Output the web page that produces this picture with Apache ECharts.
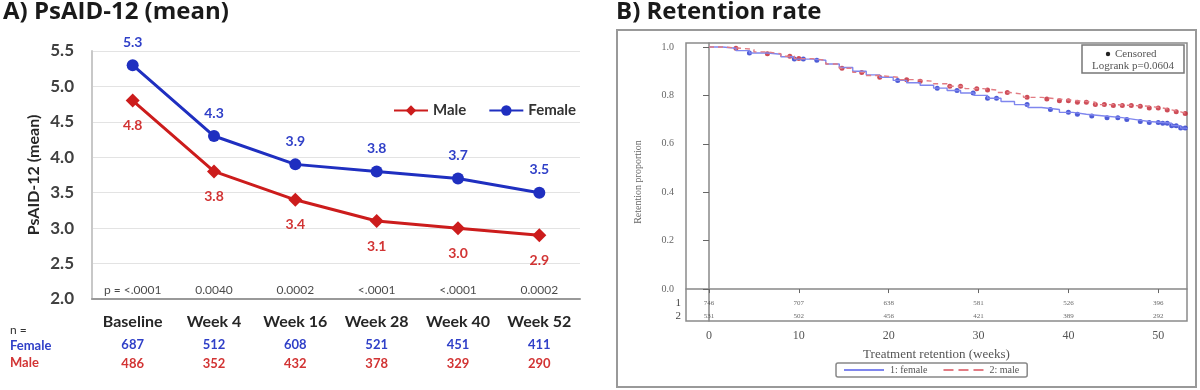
<!DOCTYPE html>
<html>
<head>
<meta charset="utf-8">
<script src="https://cdn.jsdelivr.net/npm/echarts@6/dist/echarts.min.js"></script>
<style>html,body{margin:0;padding:0;background:#fff}#c{width:1200px;height:390px}</style>
</head>
<body>
<div id="c"></div>
<script>
// ---- Panel A data ----
var categories = ['Baseline', 'Week 4', 'Week 16', 'Week 28', 'Week 40', 'Week 52'];
var femaleMean = [5.3, 4.3, 3.9, 3.8, 3.7, 3.5];
var maleMean = [4.8, 3.8, 3.4, 3.1, 3.0, 2.9];
var pValues = ['p = <.0001', '0.0040', '0.0002', '<.0001', '<.0001', '0.0002'];
var femaleN = [687, 512, 608, 521, 451, 411];
var maleN = [486, 352, 432, 378, 329, 290];

// ---- Panel B data (Kaplan-Meier steps: [week, proportion]) ----
var femaleKM = [[0,1.0],[1.5,0.995],[3,0.985],[4.5,0.975],[6.5,0.97],[8,0.96],[9.5,0.95],[11.5,0.945],[13,0.93],[14.5,0.915],[16,0.9],[17.5,0.885],[19,0.875],[20.5,0.862],[22,0.852],[23.5,0.842],[25,0.83],[26.5,0.82],[28,0.81],[29.5,0.8],[31,0.788],[32.5,0.775],[34,0.762],[35.5,0.75],[37,0.742],[39,0.73],[40.5,0.722],[42,0.715],[44,0.708],[46,0.7],[47.5,0.692],[49,0.688],[50.5,0.685],[51.5,0.675],[52.5,0.665],[53.2,0.66]];
var maleKM = [[0,1.0],[1.5,0.995],[3.5,0.99],[5,0.98],[6.5,0.972],[8,0.962],[9.5,0.952],[11.5,0.945],[13,0.93],[14.5,0.912],[16,0.895],[17.5,0.882],[19,0.875],[21,0.865],[23,0.858],[25,0.848],[26.5,0.838],[28.5,0.828],[30.5,0.822],[32,0.812],[33.5,0.805],[35,0.792],[37,0.785],[39,0.778],[41,0.772],[43,0.762],[45,0.758],[47.5,0.755],[49,0.748],[50.5,0.74],[51.5,0.732],[52.5,0.725],[53.2,0.72]];
var femaleCensored = [4.5,9.5,10.5,12,21,25.4,27.6,29.4,31,32,35.4,38,40,41,42.6,44.3,45.5,46.5,48,49,50,50.5,51,51.5,52,52.5,53];
var maleCensored = [3,6.5,9,10,14.8,17,19,22,23.5,26.8,28,29.8,31,33.2,35.4,37.6,39,40,41,42,43,44,45,46,47,48,49,50,51,52,53];
var riskWeeks = [0, 10, 20, 30, 40, 50];
var riskFemale = [746, 707, 638, 581, 526, 396];
var riskMale = [531, 502, 456, 421, 389, 292];
var kmTicksY = [0, 0.2, 0.4, 0.6, 0.8, 1.0];
var kmTicksX = [0, 10, 20, 30, 40, 50];
var logrankText = 'Logrank p=0.0604';

function stepAt(curve, t) {
  var s = curve[0][1];
  for (var i = 0; i < curve.length; i++) { if (curve[i][0] <= t) s = curve[i][1]; }
  return s;
}

var BLUE = '#1f2fc0', RED = '#cc1c1c';
var BLUE_T = '#3040c8', RED_T = '#d23434';
var SANS = 'Lato, "Open Sans", sans-serif';
var SERIF = '"Liberation Serif", "DejaVu Serif", serif';
var ROW1 = -0.058, ROW2 = -0.112;
var SOLID_ICON = 'path://M0,0h40v2h-40z';
var DASH_ICON = 'path://M0,0h10v2h-10z M15,0h10v2h-10z M30,0h10v2h-10z';

var chart = echarts.init(document.getElementById('c'), null, {renderer: 'canvas'});
chart.setOption({
  animation: false,
  title: [
    {text: 'A) PsAID-12 (mean)', left: 3, top: 0, padding: 0, textStyle: {fontFamily: '"Open Sans", Lato, sans-serif', fontSize: 24, fontWeight: 'bold', color: '#1a1a1a'}},
    {text: 'B) Retention rate', left: 616, top: 0, padding: 0, textStyle: {fontFamily: '"Open Sans", Lato, sans-serif', fontSize: 24, fontWeight: 'bold', color: '#1a1a1a'}}
  ],
  legend: [
    {data: ['Male', 'Female'], left: 388, top: 98, itemWidth: 34, itemHeight: 13, itemGap: 22,
     textStyle: {fontFamily: SANS, fontSize: 15, fontWeight: 'bold', color: '#333'}},
    {data: [{name: '1: female', icon: SOLID_ICON}, {name: '2: male', icon: DASH_ICON}],
     left: 836, top: 363, itemWidth: 42, itemHeight: 2, itemGap: 16,
     borderColor: '#888', borderWidth: 1.5, borderRadius: 2, padding: [2, 8, 2, 8],
     textStyle: {fontFamily: SERIF, fontSize: 10, color: '#555'}}
  ],
  grid: [
    {left: 92, top: 51, width: 488, height: 248},
    {left: 686, top: 43, width: 501, height: 278, show: true, borderColor: '#8a8a8a', borderWidth: 1.5}
  ],
  xAxis: [
    {type: 'category', gridIndex: 0, data: categories,
     axisLine: {lineStyle: {color: '#999', width: 2}}, axisTick: {show: false},
     axisLabel: {margin: 12, interval: 0,
       formatter: function (v, i) { return '{c|' + v + '}\n{f|' + femaleN[i] + '}\n{m|' + maleN[i] + '}'; },
       rich: {
         c: {fontFamily: SANS, fontSize: 16, fontWeight: 'bold', color: '#262626', lineHeight: 22},
         f: {fontFamily: SANS, fontSize: 13, fontWeight: 'bold', color: BLUE_T, lineHeight: 24},
         m: {fontFamily: SANS, fontSize: 13, fontWeight: 'bold', color: RED_T, lineHeight: 14}
       }}},
    {type: 'value', gridIndex: 1, min: -2.56, max: 53.2,
     axisLine: {lineStyle: {color: '#888', width: 1.5}},
     axisTick: {customValues: kmTicksX, length: 4, lineStyle: {color: '#666'}},
     axisLabel: {customValues: kmTicksX, margin: 9, fontFamily: SERIF, fontSize: 12, color: '#555'},
     splitLine: {show: false},
     name: 'Treatment retention (weeks)', nameLocation: 'middle', nameGap: 27,
     nameTextStyle: {fontFamily: SERIF, fontSize: 13, color: '#555'}}
  ],
  yAxis: [
    {type: 'value', gridIndex: 0, min: 2.0, max: 5.5, interval: 0.5,
     axisLine: {show: true, lineStyle: {color: '#c8c8c8', width: 2}}, axisTick: {show: false},
     axisLabel: {margin: 18, fontFamily: SANS, fontSize: 17, fontWeight: 'bold', color: '#404040',
       formatter: function (v) { return v.toFixed(1); }},
     splitLine: {lineStyle: {color: '#e3e3e3', width: 1.2}},
     name: 'PsAID-12 (mean)', nameLocation: 'middle', nameGap: 50,
     nameTextStyle: {fontFamily: SANS, fontSize: 16, fontWeight: 'bold', color: '#262626'}},
    {type: 'value', gridIndex: 1, min: -0.132, max: 1.0165,
     axisLine: {show: true, lineStyle: {color: '#888', width: 1.5}},
     axisTick: {customValues: kmTicksY, length: 6, lineStyle: {color: '#666'}},
     axisLabel: {customValues: [ROW2, ROW1].concat(kmTicksY), margin: 5,
       formatter: function (v) {
         if (v < -0.1) return '{r|2}';
         if (v < 0) return '{r|1}';
         return '{t|' + v.toFixed(1) + '}';
       },
       rich: {
         r: {fontFamily: SERIF, fontSize: 11, color: '#444'},
         t: {fontFamily: SERIF, fontSize: 10, color: '#666', padding: [0, 7, 0, 0]}
       }},
     splitLine: {show: false},
     name: 'Retention proportion', nameLocation: 'middle', nameGap: 43,
     nameTextStyle: {fontFamily: SERIF, fontSize: 10, color: '#666'}}
  ],
  series: [
    {name: 'Male', type: 'line', xAxisIndex: 0, yAxisIndex: 0, data: maleMean,
     symbol: 'diamond', symbolSize: 14, lineStyle: {color: RED, width: 3}, itemStyle: {color: RED},
     label: {show: true, position: 'bottom', distance: 11, fontFamily: SANS, fontSize: 14, fontWeight: 'bold', color: RED_T,
       formatter: function (p) { return p.value.toFixed(1); }}},
    {name: 'Female', type: 'line', xAxisIndex: 0, yAxisIndex: 0, data: femaleMean,
     symbol: 'circle', symbolSize: 12, lineStyle: {color: BLUE, width: 3}, itemStyle: {color: BLUE},
     label: {show: true, position: 'top', distance: 10, fontFamily: SANS, fontSize: 14, fontWeight: 'bold', color: BLUE_T,
       formatter: function (p) { return p.value.toFixed(1); }}},
    {name: 'pvals', type: 'scatter', xAxisIndex: 0, yAxisIndex: 0, symbolSize: 0,
     data: pValues.map(function (p, i) { return [categories[i], 2.12]; }),
     label: {show: true, position: 'inside', fontFamily: SANS, fontSize: 12, color: '#1a1a1a',
       formatter: function (p) { return pValues[p.dataIndex]; }}},
    {name: '1: female', type: 'line', xAxisIndex: 1, yAxisIndex: 1, step: 'end', symbol: 'none',
     data: femaleKM, lineStyle: {color: '#7f86ee', width: 1.4}, itemStyle: {color: '#7f86ee'}},
    {name: '2: male', type: 'line', xAxisIndex: 1, yAxisIndex: 1, step: 'end', symbol: 'none',
     data: maleKM, lineStyle: {color: '#e27c84', width: 1.4, type: [5, 4]}, itemStyle: {color: '#e27c84'}},
    {name: 'femaleCens', type: 'scatter', xAxisIndex: 1, yAxisIndex: 1, symbolSize: 5,
     data: femaleCensored.map(function (t) { return [t, stepAt(femaleKM, t)]; }), itemStyle: {color: '#2233cc'}},
    {name: 'maleCens', type: 'scatter', xAxisIndex: 1, yAxisIndex: 1, symbolSize: 5,
     data: maleCensored.map(function (t) { return [t, stepAt(maleKM, t)]; }), itemStyle: {color: '#c2202e'}},
    {name: 'risk', type: 'scatter', xAxisIndex: 1, yAxisIndex: 1, symbolSize: 0,
     data: riskWeeks.map(function (w) { return [w, ROW1]; }).concat(riskWeeks.map(function (w) { return [w, ROW2]; })),
     label: {show: true, position: 'inside', fontFamily: SERIF, fontSize: 7, color: '#444',
       formatter: function (p) { var i = p.dataIndex; return i < 6 ? riskFemale[i] : riskMale[i - 6]; }}}
  ],
  graphic: [
    {type: 'rect', shape: {x: 617, y: 30, width: 579, height: 357}, style: {fill: 'none', stroke: '#999', lineWidth: 2}, z: 0},
    {type: 'rect', shape: {x: 1082, y: 45, width: 102, height: 28}, style: {fill: '#fff', stroke: '#777', lineWidth: 1.5}, z: 10},
    {type: 'circle', shape: {cx: 1108, cy: 54, r: 2.2}, style: {fill: '#222'}, z: 11},
    {type: 'text', x: 1115, y: 54, style: {text: 'Censored', font: '11px "Liberation Serif", serif', fill: '#555', verticalAlign: 'middle'}, z: 11},
    {type: 'text', x: 1133, y: 66, style: {text: logrankText, font: '11px "Liberation Serif", serif', fill: '#555', align: 'center', verticalAlign: 'middle'}, z: 11},
    {type: 'text', x: 10, y: 330, style: {text: 'n =', font: '12px Lato, sans-serif', fill: '#333', verticalAlign: 'middle'}},
    {type: 'text', x: 10, y: 346, style: {text: 'Female', font: 'bold 13px Lato, sans-serif', fill: BLUE_T, verticalAlign: 'middle'}},
    {type: 'text', x: 10, y: 363, style: {text: 'Male', font: 'bold 13px Lato, sans-serif', fill: RED_T, verticalAlign: 'middle'}}
  ]
});
</script>
</body>
</html>
